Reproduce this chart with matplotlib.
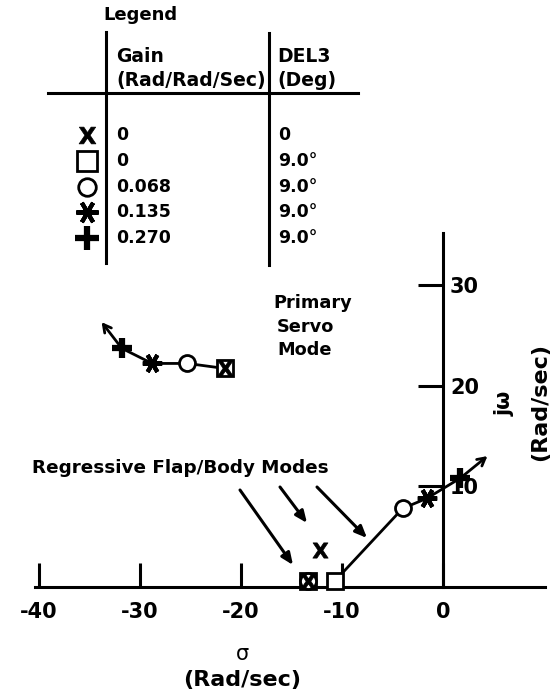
import matplotlib
matplotlib.use("Agg")
import matplotlib.pyplot as plt

plt.rcParams['font.family'] = ['DejaVu Sans']
plt.rcParams['font.weight'] = 'bold'
plt.rcParams['mathtext.fontset'] = 'dejavusans'
plt.rcParams['axes.unicode_minus'] = False

# ---------------- data ----------------
legend_gain = ["0", "0", "0.068", "0.135", "0.270"]
legend_del3 = ["0", "9.0°", "9.0°", "9.0°", "9.0°"]
# poles per case (X, square, circle, asterisk, plus)
primary_sigma = [-21.6, -21.6, -25.3, -28.8, -31.8]
primary_omega = [21.7, 21.7, 22.2, 22.2, 23.7]
body_sigma = [-12.2, -10.7, -4.0, -1.6, 1.7]
body_omega = [3.7, 0.6, 7.8, 8.8, 10.8]
flap_sigma = [-13.4, -13.4, -13.4]
flap_omega = [0.6, 0.6, 0.6]
primary_arrow_tip = [-33.8, 26.3]
body_arrow_tip = [4.4, 13.0]
x_ticks = [-40, -30, -20, -10, 0]
y_ticks = [10, 20, 30]

# ---------------- layout ----------------
W, H = 551, 689
X0, Y0, SX, SY = 443, 587, 10.1, 10.07

def px(x, y):
    return ((x - X0) / SX, (Y0 - y) / SY)

fig = plt.figure(figsize=(W / 100, H / 100), dpi=100)
ax = fig.add_axes([0, 0, 1, 1])
ax.set_xlim((0 - X0) / SX, (W - X0) / SX)
ax.set_ylim((Y0 - H) / SY, Y0 / SY)

for s in ['top', 'left']:
    ax.spines[s].set_visible(False)
ax.spines['bottom'].set_position(('data', 0))
ax.spines['bottom'].set_bounds(px(35, 0)[0], px(545, 0)[0])
ax.spines['right'].set_position(('data', 0))
ax.spines['right'].set_bounds(0, px(0, 233)[1])
for s in ['bottom', 'right']:
    ax.spines[s].set_linewidth(2.2)
ax.yaxis.tick_right()
ax.xaxis.tick_bottom()
ax.set_xticks(x_ticks)
ax.set_xticklabels([str(v) for v in x_ticks])
ax.set_yticks(y_ticks)
ax.set_yticklabels([str(v) for v in y_ticks])
ax.tick_params(axis='x', direction='in', length=17, width=2.2, pad=11, labelsize=15)
ax.tick_params(axis='y', direction='in', length=18, width=2.2, pad=5, labelsize=15)

# marker styles: X, square, circle, asterisk, plus
styles = [
    dict(marker='$\\mathbf{X}$', ms=11, mew=0.5, mfc='k', mec='k'),
    dict(marker='s', ms=12, mew=2, mfc='white', mec='k'),
    dict(marker='o', ms=11.5, mew=2, mfc='white', mec='k'),
    dict(marker=(6, 2, 90), ms=14, mew=3, mec='k'),
    dict(marker='+', ms=14, mew=4.5, mec='k'),
]
marker_z = [6, 4, 4, 4, 4]
legend_scale = [1.1, 1.2, 1.1, 1.15, 1.2]

# locus lines
ax.plot(primary_sigma[1:], primary_omega[1:], color='k', lw=2, zorder=2)
ax.plot(body_sigma[1:], body_omega[1:], color='k', lw=2, zorder=2)
for start, tip in [((primary_sigma[-1], primary_omega[-1]), primary_arrow_tip),
                   ((body_sigma[-1], body_omega[-1]), body_arrow_tip)]:
    ax.annotate('', xy=tip, xytext=start,
                arrowprops=dict(arrowstyle='->,head_length=0.55,head_width=0.3',
                                lw=2, color='k', shrinkA=0, shrinkB=0), zorder=2)

# poles
for i, st in enumerate(styles):
    ax.plot([primary_sigma[i]], [primary_omega[i]], ls='none', zorder=marker_z[i], **st)
    ax.plot([body_sigma[i]], [body_omega[i]], ls='none', zorder=marker_z[i], **st)
order_flap = [1, 2, 0]
for j, i in enumerate(order_flap):
    ax.plot([flap_sigma[j]], [flap_omega[j]], ls='none', zorder=4 + j, **styles[i])

# ---------------- legend table ----------------
ax.text(*px(103, 15), "Legend", ha='left', va='center', fontsize=13)
ax.plot(*zip(px(106, 32), px(106, 263)), color='k', lw=2.2)
ax.plot(*zip(px(269, 33), px(269, 265)), color='k', lw=2.2)
ax.plot(*zip(px(48, 93), px(358, 93)), color='k', lw=2.2)
ax.text(*px(116, 57), "Gain", ha='left', va='center', fontsize=13.5)
ax.text(*px(116, 80), "(Rad/Rad/Sec)", ha='left', va='center', fontsize=13.5)
ax.text(*px(277, 57), "DEL3", ha='left', va='center', fontsize=13.5)
ax.text(*px(277, 80), "(Deg)", ha='left', va='center', fontsize=13.5)
for i, (g, d) in enumerate(zip(legend_gain, legend_del3)):
    y = 135 + 25.8 * i
    st = dict(styles[i])
    st['ms'] = st['ms'] * legend_scale[i]
    ax.plot([px(87, y)[0]], [px(87, y)[1]], ls='none', **st)
    ax.text(*px(116, y), g, ha='left', va='center', fontsize=12.5)
    ax.text(*px(278, y), d, ha='left', va='center', fontsize=12.5)

# ---------------- annotations ----------------
ax.text(*px(273, 303), "Primary", ha='left', va='center', fontsize=12.8)
ax.text(*px(277, 327), "Servo", ha='left', va='center', fontsize=12.8)
ax.text(*px(277, 350), "Mode", ha='left', va='center', fontsize=12.8)

ax.text(*px(32, 468), "Regressive Flap/Body Modes", ha='left', va='center', fontsize=13.2)
for (x1, y1), (x2, y2) in [((240, 490), (293, 565)), ((280, 487), (307, 523)),
                           ((317, 487), (367, 538))]:
    ax.annotate('', xy=px(x2, y2), xytext=px(x1, y1),
                arrowprops=dict(arrowstyle='-|>,head_length=0.7,head_width=0.3',
                                lw=2.2, color='k', shrinkA=0, shrinkB=0))

ax.text(*px(242, 654), "σ", ha='center', va='center', fontsize=15, fontweight='normal')
ax.text(*px(242, 680), "(Rad/sec)", ha='center', va='center', fontsize=16)
ax.text(*px(505, 403), "jω", ha='center', va='center', fontsize=15, rotation=90)
ax.text(*px(540, 402), "(Rad/sec)", ha='center', va='center', fontsize=16, rotation=90)

fig.savefig("out.png", dpi=100)
